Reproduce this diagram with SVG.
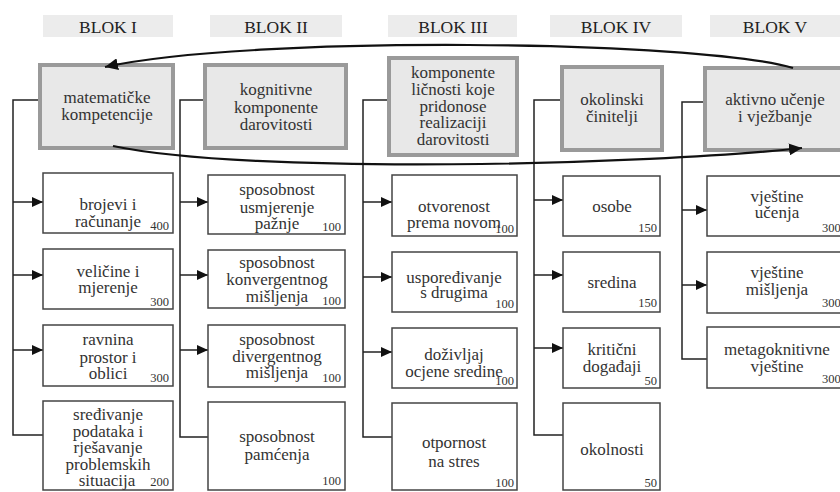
<svg xmlns="http://www.w3.org/2000/svg" width="840" height="492" viewBox="0 0 840 492">
<defs>
<style>
.band{fill:#ececec}
.blok{font-family:"Liberation Serif",serif;font-size:17.5px;fill:#222;text-anchor:middle}
.main rect{fill:#e8e8e8;stroke:#9a9a9a;stroke-width:4}
.child rect{fill:#fff;stroke:#444;stroke-width:1.5}
.t{font-family:"Liberation Serif",serif;font-size:17px;fill:#333;text-anchor:middle}
.n{font-family:"Liberation Serif",serif;font-size:12.5px;fill:#333;text-anchor:end}
.ns{font-family:"Liberation Serif",serif;font-size:12.5px;fill:#333}
.conn{fill:none;stroke:#222;stroke-width:1.5}
.curve{fill:none;stroke:#111;stroke-width:2.2}
</style>
<marker id="ah" markerUnits="userSpaceOnUse" markerWidth="12" markerHeight="10" refX="11" refY="5" orient="auto">
<path d="M0,0 L11,5 L0,10 z" fill="#111"/>
</marker>
<marker id="ah2" markerUnits="userSpaceOnUse" markerWidth="14" markerHeight="12" refX="13" refY="6" orient="auto">
<path d="M0,0 L13,6 L0,12 z" fill="#111"/>
</marker>
</defs>
<rect width="840" height="492" fill="#fff"/>

<g id="headers">
<rect class="band" x="43" y="15" width="130" height="22"/>
<rect class="band" x="210" y="15" width="132" height="22"/>
<rect class="band" x="388" y="15" width="129" height="22"/>
<rect class="band" x="550" y="15" width="132" height="22"/>
<rect class="band" x="710" y="15" width="130" height="22"/>
<text class="blok" x="108" y="33">BLOK I</text>
<text class="blok" x="276" y="33">BLOK II</text>
<text class="blok" x="453" y="33">BLOK III</text>
<text class="blok" x="616" y="33">BLOK IV</text>
<text class="blok" x="775" y="33">BLOK V</text>
</g>

<g id="connectors">
<path class="conn" d="M40 100 H13 V435 H43"/>
<path class="conn" d="M13 202 H43" marker-end="url(#ah)"/>
<path class="conn" d="M13 275 H43" marker-end="url(#ah)"/>
<path class="conn" d="M13 350 H43" marker-end="url(#ah)"/>
<path class="conn" d="M205 100 H180 V437 H208"/>
<path class="conn" d="M180 202 H208" marker-end="url(#ah)"/>
<path class="conn" d="M180 275 H208" marker-end="url(#ah)"/>
<path class="conn" d="M180 350 H208" marker-end="url(#ah)"/>
<path class="conn" d="M389 100 H363 V437 H392"/>
<path class="conn" d="M363 202 H392" marker-end="url(#ah)"/>
<path class="conn" d="M363 277 H392" marker-end="url(#ah)"/>
<path class="conn" d="M363 352 H392" marker-end="url(#ah)"/>
<path class="conn" d="M562 100 H534 V435 H563"/>
<path class="conn" d="M534 200 H563" marker-end="url(#ah)"/>
<path class="conn" d="M534 275 H563" marker-end="url(#ah)"/>
<path class="conn" d="M534 348 H563" marker-end="url(#ah)"/>
<path class="conn" d="M705 102 H682 V359 H707"/>
<path class="conn" d="M682 210 H707" marker-end="url(#ah)"/>
<path class="conn" d="M682 285 H707" marker-end="url(#ah)"/>
</g>

<g id="main-I" class="main">
<rect x="40" y="65" width="133" height="83"/>
<text class="t" x="107" y="103">matematičke</text>
<text class="t" x="107" y="120">kompetencije</text>
</g>
<g id="main-II" class="main">
<rect x="205" y="65" width="141" height="83"/>
<text class="t" x="276" y="95">kognitivne</text>
<text class="t" x="276" y="113">komponente</text>
<text class="t" x="276" y="130">darovitosti</text>
</g>
<g id="main-III" class="main">
<rect x="389" y="58" width="128" height="97"/>
<text class="t" x="453" y="78">komponente</text>
<text class="t" x="453" y="95">ličnosti koje</text>
<text class="t" x="453" y="112">pridonose</text>
<text class="t" x="453" y="128">realizaciji</text>
<text class="t" x="453" y="145">darovitosti</text>
</g>
<g id="main-IV" class="main">
<rect x="562" y="67" width="100" height="83"/>
<text class="t" x="612" y="105">okolinski</text>
<text class="t" x="612" y="122">činitelji</text>
</g>
<g id="main-V" class="main">
<rect x="705" y="68" width="140" height="82"/>
<text class="t" x="775" y="105">aktivno učenje</text>
<text class="t" x="775" y="122">i vježbanje</text>
</g>

<g id="curves">
<path class="curve" d="M793 68 C700 40 250 35 105 67" marker-end="url(#ah2)"/>
<path class="curve" d="M113 146 C250 175 650 165 802 148" marker-end="url(#ah2)"/>
</g>

<g id="c1-1" class="child"><rect x="43" y="173" width="130" height="60"/>
<text class="t" x="108" y="210">brojevi i</text><text class="t" x="108" y="227">računanje</text><text class="n" x="169" y="230">400</text></g>
<g id="c1-2" class="child"><rect x="43" y="249" width="130" height="60"/>
<text class="t" x="108" y="277">veličine i</text><text class="t" x="108" y="293">mjerenje</text><text class="n" x="169" y="306">300</text></g>
<g id="c1-3" class="child"><rect x="43" y="325" width="130" height="61"/>
<text class="t" x="108" y="345">ravnina</text><text class="t" x="108" y="363">prostor i</text><text class="t" x="108" y="379">oblici</text><text class="n" x="169" y="382">300</text></g>
<g id="c1-4" class="child"><rect x="43" y="401" width="130" height="89"/>
<text class="t" x="108" y="420">sređivanje</text><text class="t" x="108" y="437">podataka i</text><text class="t" x="108" y="453">rješavanje</text><text class="t" x="108" y="470">problemskih</text><text class="t" x="107" y="486">situacija</text><text class="n" x="169" y="486">200</text></g>

<g id="c2-1" class="child"><rect x="208" y="175" width="137" height="59"/>
<text class="t" x="277" y="195">sposobnost</text><text class="t" x="277" y="213">usmjerenje</text><text class="t" x="277" y="229">pažnje</text><text class="n" x="341" y="231">100</text></g>
<g id="c2-2" class="child"><rect x="208" y="250" width="137" height="58"/>
<text class="t" x="277" y="268">sposobnost</text><text class="t" x="277" y="285">konvergentnog</text><text class="t" x="277" y="302">mišljenja</text><text class="n" x="341" y="305">100</text></g>
<g id="c2-3" class="child"><rect x="208" y="325" width="137" height="62"/>
<text class="t" x="277" y="345">sposobnost</text><text class="t" x="277" y="362">divergentnog</text><text class="t" x="277" y="378">mišljenja</text><text class="n" x="341" y="382">100</text></g>
<g id="c2-4" class="child"><rect x="208" y="402" width="137" height="88"/>
<text class="t" x="277" y="442">sposobnost</text><text class="t" x="277" y="460">pamćenja</text><text class="n" x="341" y="485">100</text></g>

<g id="c3-1" class="child"><rect x="392" y="175" width="125" height="61"/>
<text class="t" x="454" y="212">otvorenost</text><text class="t" x="454" y="228">prema novom</text><text class="n" x="514" y="233">100</text></g>
<g id="c3-2" class="child"><rect x="392" y="252" width="125" height="60"/>
<text class="t" x="454" y="283">uspoređivanje</text><text class="t" x="454" y="298">s drugima</text><text class="n" x="514" y="308">100</text></g>
<g id="c3-3" class="child"><rect x="392" y="328" width="125" height="60"/>
<text class="t" x="454" y="360">doživljaj</text><text class="t" x="454" y="377">ocjene sredine</text><text class="n" x="514" y="385">100</text></g>
<g id="c3-4" class="child"><rect x="392" y="403" width="125" height="87"/>
<text class="t" x="454" y="448">otpornost</text><text class="t" x="454" y="467">na stres</text><text class="n" x="514" y="487">100</text></g>

<g id="c4-1" class="child"><rect x="563" y="176" width="97" height="60"/>
<text class="t" x="612" y="212">osobe</text><text class="n" x="657" y="232">150</text></g>
<g id="c4-2" class="child"><rect x="563" y="252" width="97" height="60"/>
<text class="t" x="612" y="288">sredina</text><text class="n" x="657" y="307">150</text></g>
<g id="c4-3" class="child"><rect x="563" y="328" width="97" height="60"/>
<text class="t" x="612" y="355">kritični</text><text class="t" x="612" y="372">događaji</text><text class="n" x="657" y="385">50</text></g>
<g id="c4-4" class="child"><rect x="563" y="403" width="97" height="87"/>
<text class="t" x="612" y="455">okolnosti</text><text class="n" x="657" y="487">50</text></g>

<g id="c5-1" class="child"><rect x="707" y="176" width="140" height="60"/>
<text class="t" x="777" y="202">vještine</text><text class="t" x="777" y="218">učenja</text><text class="ns" x="822" y="232">300</text></g>
<g id="c5-2" class="child"><rect x="707" y="252" width="140" height="61"/>
<text class="t" x="777" y="278">vještine</text><text class="t" x="777" y="295">mišljenja</text><text class="ns" x="822" y="307">300</text></g>
<g id="c5-3" class="child"><rect x="707" y="327" width="140" height="61"/>
<text class="t" x="777" y="355">metagoknitivne</text><text class="t" x="777" y="372">vještine</text><text class="ns" x="822" y="383">300</text></g>
</svg>
